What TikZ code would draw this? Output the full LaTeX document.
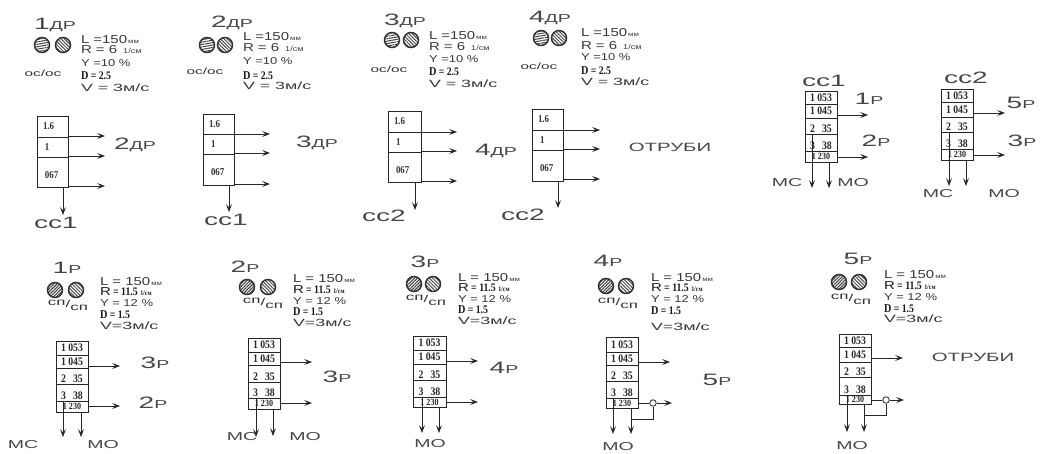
\documentclass[tikz,border=0pt]{standalone}
\usepackage{fontspec}
\setmainfont{Liberation Sans}
\newfontfamily\lab[FakeStretch=1.7]{Liberation Sans}
\newfontfamily\plab[FakeStretch=1.3]{Liberation Sans}
\newfontfamily\numf[FakeStretch=0.85]{Liberation Serif}
\usetikzlibrary{arrows.meta,patterns.meta}
\tikzset{
  ink/.style={draw=black!85,line width=0.8pt},
  arr/.style={ink,-{Stealth[length=8pt,width=6pt,inset=3.5pt]}},
  row/.style={ink,line width=0.9pt,inner sep=0pt,outer sep=0pt,fill=none},
  roll/.style={circle,draw=black!80,line width=1.5pt,inner sep=0pt,minimum size=15pt},
  rollA/.style={roll,pattern={Lines[angle=10,distance=2.4pt,line width=1pt]},pattern color=black!75},
  rollB/.style={roll,pattern={Lines[angle=-45,distance=2.4pt,line width=1pt]},pattern color=black!70},
  rollC/.style={roll,pattern={Lines[angle=45,distance=2.2pt,line width=1.1pt]},pattern color=black!75},
  txt/.style={inner sep=0pt,outer sep=0pt,text=black!85},
  big/.style={txt,font=\lab,text=black!72},
  par/.style={txt,anchor=base west,font=\plab\fontsize{11.5}{11.5}\selectfont,text=black!78},
  parnum/.style={par,font=\numf\bfseries\fontsize{11.5}{11.5}\selectfont,text=black!90},
  cell/.style={txt,font=\numf\bfseries\fontsize{11.5}{11.5}\selectfont},
  cellsm/.style={txt,font=\numf\bfseries\fontsize{9.5}{9.5}\selectfont},
  cellt/.style={txt,font=\numf\bfseries\fontsize{10.5}{10.5}\selectfont,text=black!80},
  oslab/.style={txt,font=\lab\fontsize{9}{9}\selectfont,text=black!80},
  splab/.style={txt,font=\lab\fontsize{10}{10}\selectfont,text=black!80},
  hub/.style={circle,ink,fill=white,inner sep=0pt,minimum size=6.5pt},
}
\newcommand{\Dg}[2]{{\fontsize{16.5}{16.5}\selectfont #1}{\fontsize{11.5}{11.5}\selectfont #2}}
\newcommand{\Lb}[1]{{\fontsize{11.5}{11.5}\selectfont #1}}
\newcommand{\SpSp}{\raisebox{2.5pt}{сп}/\raisebox{-2.5pt}{сп}}
% prefix, title, tx, ty, r1x, r2x, ry, roll style pair
\newcommand{\Head}[8]{%
  \node[big] (#1t) at (#3,#4) {#2};
  \node[#8] (#1r1) at (#5,#7) {};
  \node[rollB] (#1r2) at (#6,#7) {};}
% prefix, x, y1..y5
\newcommand{\ParTop}[7]{%
  \node[par] (#1L) at (#2,#3+4) {L =150{\fontsize{6}{6}\selectfont\,мм}};
  \node[par] (#1R) at (#2,#4+4) {R = 6 \,{\fontsize{7}{7}\selectfont 1/см}};
  \node[par,font=\plab\fontsize{10}{10}\selectfont] (#1Y) at (#2,#5+4) {Y =10 \%};
  \node[parnum] (#1D) at (#2,#6+4) {{\fontsize{12}{12}\selectfont D} = 2.5};
  \node[par,font=\lab\fontsize{10.5}{10.5}\selectfont] (#1V) at (#2,#7+4) {V = 3м/с};}
\newcommand{\ParBot}[7]{%
  \node[par] (#1L) at (#2,#3+4) {L = 150{\fontsize{6}{6}\selectfont\,мм}};
  \node[parnum] (#1R) at (#2,#4+4) {{\plab\mdseries R} = 11.5 {\fontsize{7}{7}\selectfont 1/см}};
  \node[par,font=\plab\fontsize{10}{10}\selectfont] (#1Y) at (#2,#5+4) {Y = 12 \%};
  \node[parnum] (#1D) at (#2,#6+4) {{\fontsize{12}{12}\selectfont D} = 1.5};
  \node[par,font=\lab\fontsize{10.5}{10.5}\selectfont] (#1V) at (#2,#7+4) {V=3м/с};}
\newcommand{\Rect}[6]{% name x1 x2 y0 y1 unused
  \node[row,minimum width={(#3-#2)*1pt},minimum height={(#5-#4)*1pt}] (#1) at ({(#2+#3)/2},{(#4+#5)/2}) {};}
% prefix x1 x2 y0 y1 y2 y3
\newcommand{\BoxThree}[7]{%
  \Rect{#1a}{#2}{#3}{#4}{#5}{}\Rect{#1b}{#2}{#3}{#5}{#6}{}\Rect{#1c}{#2}{#3}{#6}{#7}{}
  \node[cellt,anchor=west] (#1ta) at (#2+6,{(#4+#5)/2}) {1.6};
  \node[cellt,anchor=west] (#1tb) at (#2+8,{(#5+#6)/2}) {1};
  \node[cellt,anchor=west] (#1tc) at (#2+8,{(#6+#7)/2+3}) {067};}
% prefix x1 x2 y0..y5
\newcommand{\BoxFive}[8]{\def\bp{#1}\def\bxa{#2}\def\bxb{#3}\def\bya{#4}\def\byb{#5}\def\byc{#6}\def\byd{#7}\def\bye{#8}\BoxFiveB}
\newcommand{\BoxFiveB}[1]{%
  \Rect{\bp a}{\bxa}{\bxb}{\bya}{\byb}{}\Rect{\bp b}{\bxa}{\bxb}{\byb}{\byc}{}
  \Rect{\bp c}{\bxa}{\bxb}{\byc}{\byd}{}\Rect{\bp d}{\bxa}{\bxb}{\byd}{\bye}{}
  \Rect{\bp e}{\bxa}{\bxb}{\bye}{#1}{}
  \node[cell] (\bp ta) at (\bp a) {1 053};
  \node[cell] (\bp tb) at (\bp b) {1 045};
  \node[cell,anchor=south] (\bp tc) at ([yshift=1.5pt]\bp c.south) {2\hspace{7pt}35};
  \node[cell,anchor=south] (\bp td) at ([yshift=1.5pt]\bp d.south) {3\hspace{7pt}38};
  \node[cellsm] (\bp te) at (\bp e) {1 230};}
% name, from-node, x, y : arrow right
\newcommand{\Out}[4]{\coordinate (#1) at (#3,#4); \draw[arr] (#1 -| #2.east) -- (#1);}
% name, from-node, x, yend : arrow down
\newcommand{\Dn}[4]{\coordinate (#1) at (#3,#4); \draw[arr] (#1 |- #2.south) -- (#1);}
\begin{document}
\begin{tikzpicture}[x=1pt,y=-1pt]
\useasboundingbox (0,0) rectangle (1042,453);
% ---------- top row
\Head{a}{\Dg{1}{ДР}}{55}{25}{42}{63}{45}{rollA}
\ParTop{a}{81}{39}{49}{62}{75}{87}
\node[oslab] (aos) at (43,73) {ос/ос};
\BoxThree{ab}{37}{68}{116}{137}{157}{187}
\Out{ao1}{aba}{105}{136}\Out{ao2}{abb}{105}{156}\Out{ao3}{abc}{105}{186}
\Dn{ad}{abc}{63}{215}
\node[big] (al) at (135,145) {\Dg{2}{ДР}};
\node[big] (ac) at (56,223) {\Dg{сс1}{}};
%
\Head{b}{\Dg{2}{ДР}}{232}{23}{207}{225}{45}{rollA}
\ParTop{b}{243}{36}{47}{60}{75}{85}
\node[oslab] (bos) at (205,71) {ос/ос};
\BoxThree{bb}{203}{234}{114}{134}{154}{185}
\Out{bo1}{bba}{270}{134}\Out{bo2}{bbb}{270}{153}\Out{bo3}{bbc}{270}{184}
\Dn{bd}{bbc}{229}{212}
\node[big] (bl) at (317,143) {\Dg{3}{ДР}};
\node[big] (bc) at (226,220) {\Dg{сс1}{}};
%
\Head{c}{\Dg{3}{ДР}}{405}{21}{392}{411}{40}{rollA}
\ParTop{c}{429}{35}{46}{58}{71}{83}
\node[oslab] (cos) at (389,69) {ос/ос};
\BoxThree{cb}{388}{421}{111}{132}{152}{182}
\Out{co1}{cba}{457}{132}\Out{co2}{cbb}{457}{151}\Out{co3}{cbc}{457}{181}
\Dn{cd}{cbc}{415}{210}
\node[big] (cl) at (496,151) {\Dg{4}{ДР}};
\node[big] (cc) at (384,216) {\Dg{сс2}{}};
%
\Head{d}{\Dg{4}{ДР}}{550}{18}{541}{559}{38}{rollA}
\ParTop{d}{581}{32}{45}{56}{70}{81}
\node[oslab] (dos) at (539,66) {ос/ос};
\BoxThree{db}{532}{563}{109}{130}{150}{181}
\Out{do1}{dba}{600}{130}\Out{do2}{dbb}{600}{149}\Out{do3}{dbc}{600}{179}
\Dn{dd}{dbc}{558}{208}
\node[big] (dl) at (670,147) {{\fontsize{12}{12}\selectfont ОТРУБИ}};
\node[big] (dc) at (523,215) {\Dg{сс2}{}};
% ---------- сс1
\node[big] (et) at (824,81) {\Dg{сс1}{}};
\BoxFive{e}{805}{837}{91}{104}{118}{134}{151}{162}
\Out{eo1}{eb}{868}{115}\Out{eo2}{ee}{868}{157}
\Dn{ed1}{ec}{812}{188}\Dn{ed2}{ee}{829}{188}
\node[big] (el1) at (869,99) {\Dg{1}{Р}};
\node[big] (el2) at (876,141) {\Dg{2}{Р}};
\node[big] (el3) at (787,183) {\Lb{МС}};
\node[big] (el4) at (853,183) {\Lb{МО}};
% ---------- сс2
\node[big] (ft) at (966,78) {\Dg{сс2}{}};
\BoxFive{f}{941}{973}{89}{102}{117}{132}{149}{160}
\Out{fo1}{fb}{1005}{113}\Out{fo2}{fe}{1005}{155}
\Dn{fd1}{fc}{949}{186}\Dn{fd2}{fe}{966}{186}
\node[big] (fl1) at (1021,103) {\Dg{5}{Р}};
\node[big] (fl2) at (1022,141) {\Dg{3}{Р}};
\node[big] (fl3) at (938,194) {\Lb{МС}};
\node[big] (fl4) at (1004,194) {\Lb{МО}};
% ---------- bottom row
\Head{g}{\Dg{1}{Р}}{67}{268}{55}{76}{290}{rollC}
\node[splab] (gs) at (68,305) {\SpSp};
\ParBot{g}{100}{281}{291}{302}{314}{325}
\BoxFive{gb}{56}{88}{341}{355}{368}{384}{401}{412}
\Out{go1}{gbb}{120}{366}\Out{go2}{gbe}{120}{406}
\Dn{gd1}{gbd}{63}{437}\Dn{gd2}{gbe}{81}{437}
\node[big] (gl1) at (155,363) {\Dg{3}{Р}};
\node[big] (gl2) at (153,403) {\Dg{2}{Р}};
\node[big] (gl3) at (23,445) {\Lb{МС}};
\node[big] (gl4) at (103,445) {\Lb{МО}};
%
\Head{h}{\Dg{2}{Р}}{245}{267}{247}{268}{287}{rollC}
\node[splab] (hs) at (263,303) {\SpSp};
\ParBot{h}{293}{278}{289}{300}{311}{322}
\BoxFive{hb}{248}{280}{338}{352}{365}{382}{398}{409}
\Out{ho1}{hbb}{312}{362}\Out{ho2}{hbe}{312}{403}
\Dn{hd1}{hbd}{256}{437}\Dn{hd2}{hbe}{273}{436}
\node[big] (hl1) at (337,377) {\Dg{3}{Р}};
\node[big] (hl3) at (242,437) {\Lb{МС}};
\node[big] (hl4) at (305,437) {\Lb{МО}};
%
\Head{i}{\Dg{3}{Р}}{425}{262}{414}{433}{284}{rollC}
\node[splab] (is) at (426,300) {\SpSp};
\ParBot{i}{458}{277}{287}{298}{309}{320}
\BoxFive{ib}{413}{446}{336}{350}{364}{380}{397}{407}
\Out{io1}{ibb}{478}{361}\Out{io2}{ibe}{478}{402}
\Dn{id1}{ibd}{422}{433}\Dn{id2}{ibe}{439}{433}
\node[big] (il1) at (504,368) {\Dg{4}{Р}};
\node[big] (il4) at (430,444) {\Lb{МО}};
%
\Head{j}{\Dg{4}{Р}}{608}{261}{606}{626}{286}{rollC}
\node[splab] (js) at (618,303) {\SpSp};
\ParBot{j}{651}{277}{287}{298}{310}{326}
\BoxFive{jb}{606}{638}{337}{352}{365}{381}{398}{408}
\Out{jo1}{jbb}{670}{362}
\node[hub] (jh) at (653,403) {};
\Out{jo2}{jh}{672}{403}
\draw[ink] (jh -| jbe.east) -- (jh.west);
\Dn{jd1}{jbd}{613}{434}\Dn{jd2}{jbe}{631}{434}
\draw[ink] (jh.south) |- (jd2 |- 0,419);
\node[big] (jl1) at (717,380) {\Dg{5}{Р}};
\node[big] (jl4) at (618,446.5) {\Lb{МО}};
%
\Head{k}{\Dg{5}{Р}}{858}{259}{839}{859}{282}{rollC}
\node[splab] (ks) at (851,299) {\SpSp};
\ParBot{k}{884}{274}{285}{296}{308}{318}
\BoxFive{kb}{839}{871}{334}{347}{362}{377}{395}{404}
\Out{ko1}{kbb}{903}{358}
\node[hub] (kh) at (886,400) {};
\Out{ko2}{kh}{904}{400}
\draw[ink] (kh -| kbe.east) -- (kh.west);
\Dn{kd1}{kbd}{847}{432}\Dn{kd2}{kbe}{864}{432}
\draw[ink] (kh.south) |- (kd2 |- 0,415);
\node[big] (kl1) at (973,357) {{\fontsize{12}{12}\selectfont ОТРУБИ}};
\node[big] (kl4) at (852,446) {\Lb{МО}};
\end{tikzpicture}
\end{document}
